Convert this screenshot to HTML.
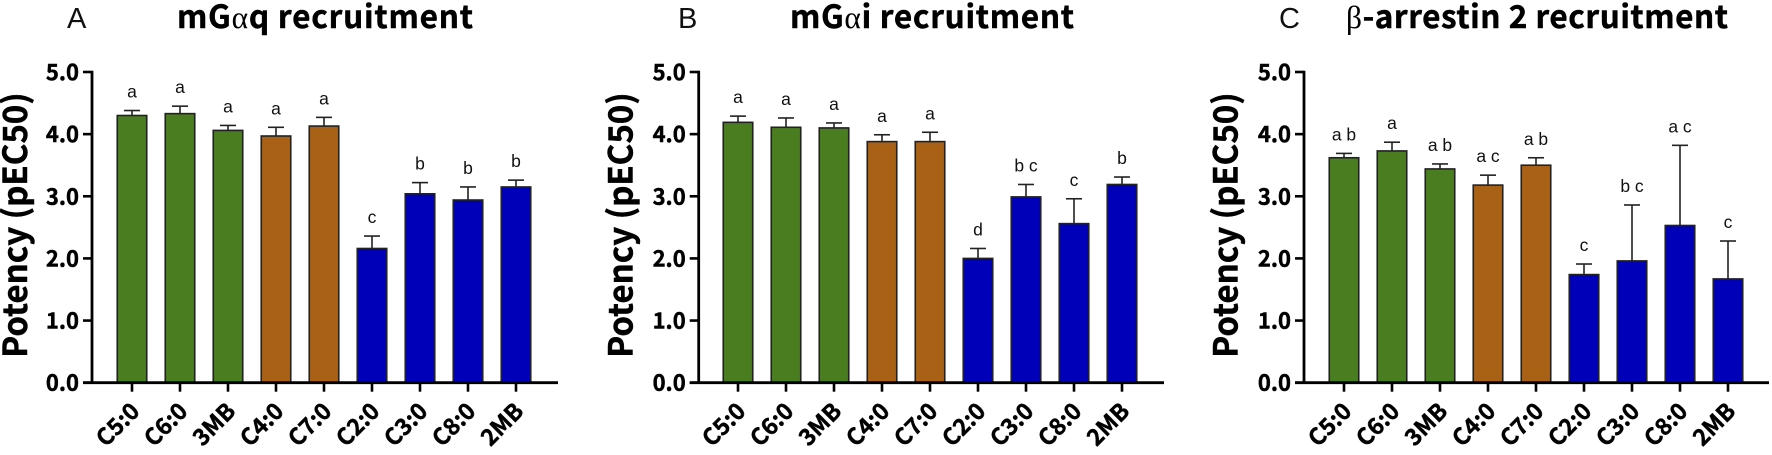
<!DOCTYPE html>
<html lang="en">
<head>
<meta charset="utf-8">
<title>Potency recruitment bar charts</title>
<style>
  html, body { margin: 0; padding: 0; background: #ffffff; }
  body { width: 1772px; height: 455px; overflow: hidden; }
  svg { display: block; }
  .bold { font-family: "Noto Sans CJK JP", "Liberation Sans", sans-serif; font-weight: 700; fill: #000; stroke: #000; stroke-width: 0.45px; }
  .greek { font-family: "Liberation Serif", serif; font-weight: 400; stroke-width: 0; }
  .panel-letter { font-family: "Liberation Sans", sans-serif; font-size: 29px; fill: #111; }
  .sig { font-family: "Liberation Sans", sans-serif; font-size: 17.5px; fill: #111; text-anchor: middle; }
</style>
</head>
<body>
<svg id="figure" xmlns="http://www.w3.org/2000/svg" width="1772" height="455" viewBox="0 0 1772 455">
  <rect width="1772" height="455" fill="#fff"/>
  <text class="panel-letter" x="67" y="28">A</text>
  <text class="panel-letter" x="678" y="28">B</text>
  <text class="panel-letter" x="1279" y="28">C</text>
  <text class="bold" x="177" y="28" font-size="31.5" textLength="296">mG<tspan class="greek">α</tspan>q recruitment</text>
  <text class="bold" x="790" y="28" font-size="31.5" textLength="284">mG<tspan class="greek">α</tspan>i recruitment</text>
  <text class="bold" x="1346" y="28" font-size="31.5" textLength="382"><tspan class="greek">β</tspan>-arrestin 2 recruitment</text>
</svg>
<script>
var categories = ['C5:0', 'C6:0', '3MB', 'C4:0', 'C7:0', 'C2:0', 'C3:0', 'C8:0', '2MB'];
var groups = ['green', 'green', 'green', 'brown', 'brown', 'blue', 'blue', 'blue', 'blue'];
var yTicks = [0, 1, 2, 3, 4, 5];
var yTickLabels = ['0.0', '1.0', '2.0', '3.0', '4.0', '5.0'];

var valuesA = [4.30, 4.33, 4.06, 3.97, 4.13, 2.16, 3.04, 2.94, 3.15];
var errorsA = [0.08, 0.12, 0.08, 0.14, 0.14, 0.20, 0.18, 0.21, 0.11];
var lettersA = ['a', 'a', 'a', 'a', 'a', 'c', 'b', 'b', 'b'];

var valuesB = [4.19, 4.11, 4.10, 3.88, 3.88, 2.00, 2.99, 2.56, 3.19];
var errorsB = [0.10, 0.15, 0.08, 0.11, 0.15, 0.16, 0.20, 0.40, 0.12];
var lettersB = ['a', 'a', 'a', 'a', 'a', 'd', 'b c', 'c', 'b'];

var valuesC = [3.62, 3.73, 3.44, 3.18, 3.50, 1.74, 1.96, 2.53, 1.67];
var errorsC = [0.07, 0.14, 0.08, 0.16, 0.12, 0.17, 0.90, 1.29, 0.61];
var lettersC = ['a b', 'a', 'a b', 'a c', 'a b', 'c', 'b c', 'a c', 'c'];

var SVGNS = 'http://www.w3.org/2000/svg';
var svg = document.getElementById('figure');
var groupColors = { green: '#4a7d1f', brown: '#a96116', blue: '#0000b8' };
var Y_ZERO = 382.7;
var Y_UNIT = 62.14;
var BAR_STEP = 48;
var BAR_W = 29.5;

function yScale(v) {
  return Y_ZERO - v * Y_UNIT;
}

function make(tag, attrs, parent) {
  var el = document.createElementNS(SVGNS, tag);
  for (var k in attrs) { el.setAttribute(k, attrs[k]); }
  parent.appendChild(el);
  return el;
}

function drawPanel(key, axisX, firstBarX, axisEnd, titleX, values, errors, letters) {
  function xScale(i) {
    return firstBarX + i * BAR_STEP;
  }
  var g = make('g', {}, svg);
  
  

  categories.forEach(function (cat, i) {
    var top = yScale(values[i]);
    var capY = yScale(values[i] + errors[i]);
    var x = xScale(i);

    var stem = make('line', { x1: x, x2: x, y1: top, y2: capY, stroke: '#222', 'stroke-width': 1.6 }, g);
    
    

    var cap = make('line', { x1: x - 8, x2: x + 8, y1: capY, y2: capY, stroke: '#222', 'stroke-width': 1.6 }, g);
    
    

    var bar = make('rect', {
      x: x - BAR_W / 2, y: top, width: BAR_W, height: Y_ZERO - top,
      fill: groupColors[groups[i]], stroke: '#222', 'stroke-width': 1.6
    }, g);
    
    

    var sig = make('text', { x: x, y: capY - 13, 'class': 'sig' }, g);
    sig.textContent = letters[i];
    
    

    var tick = make('line', { x1: x, x2: x, y1: Y_ZERO, y2: Y_ZERO + 9, stroke: '#000', 'stroke-width': 2.6 }, g);
    
    

    var lx = x + 9;
    var ly = Y_ZERO + 30;
    var label = make('text', {
      x: lx, y: ly, 'class': 'bold', 'font-size': 23, 'text-anchor': 'end',
      transform: 'rotate(-45 ' + lx + ' ' + ly + ')'
    }, g);
    label.textContent = cat;
    
    
  });

  yTicks.forEach(function (t, i) {
    var y = yScale(t);
    var tick = make('line', { x1: axisX - 9, x2: axisX, y1: y, y2: y, stroke: '#000', 'stroke-width': 2.6 }, g);
    
    

    var label = make('text', {
      x: axisX - 13, y: y + 8, 'class': 'bold', 'font-size': 22, 'text-anchor': 'end'
    }, g);
    label.textContent = yTickLabels[i];
    
    
  });

  var yAxis = make('line', { x1: axisX, x2: axisX, y1: yScale(5) - 1.3, y2: Y_ZERO + 1.3, stroke: '#000', 'stroke-width': 2.8 }, g);
  
  

  var xAxis = make('line', { x1: axisX - 9, x2: axisEnd, y1: Y_ZERO, y2: Y_ZERO, stroke: '#000', 'stroke-width': 2.8 }, g);
  
  

  var title = make('text', {
    x: titleX, y: 225, 'class': 'bold', 'font-size': 33, 'text-anchor': 'middle',
    transform: 'rotate(-90 ' + titleX + ' 225)'
  }, g);
  title.textContent = 'Potency (pEC50)';
  
  
}

drawPanel('a', 92, 132, 558, 27, valuesA, errorsA, lettersA);
drawPanel('b', 698.7, 738, 1164, 632.7, valuesB, errorsB, lettersB);
drawPanel('c', 1304, 1344, 1769, 1237.3, valuesC, errorsC, lettersC);
</script>
</body>
</html>
